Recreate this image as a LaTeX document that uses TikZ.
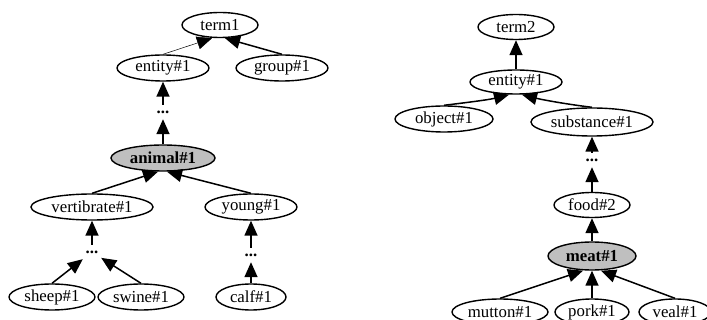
\documentclass[tikz,border=0pt]{standalone}
\usepackage{fontspec}
\setmainfont{Liberation Serif}
\usetikzlibrary{shapes.geometric,arrows.meta}

\tikzset{
  concept/.style n args={2}{ellipse, draw, line width=1.4pt, inner sep=0pt,
    minimum width=#1pt, minimum height=#2pt,
    font=\fontsize{16.8}{18}\selectfont},
  focus/.style={fill=gray!50, font=\fontsize{16.8}{18}\selectfont\bfseries},
  gap/.style={rectangle, inner sep=0pt, minimum width=18pt, minimum height=14pt,
    font=\fontsize{16.8}{18}\selectfont\bfseries},
  isa/.style={line width=1.5pt, -{Triangle[length=15pt,width=13pt]}},
  weak/.style={line width=0.5pt, -{Triangle[length=15pt,width=13pt]}}
}

\begin{document}
\begin{tikzpicture}[x=1pt, y=-1pt]
\useasboundingbox (0,0) rectangle (707,320);

% ---- hierarchy of term1 ----
\node[concept={76}{25}] (term1) at (220,25) {term1};
\node[concept={92}{26}] (entA) at (163,68) {entity\#1};
\node[concept={92}{26}] (group) at (282,68) {group\#1};
\node[gap] (dA) at (163,112) {...};
\node[concept={104}{26}, focus] (animal) at (163,158) {animal\#1};
\node[concept={122}{26}] (vert) at (92,207) {vertibrate\#1};
\node[concept={92}{26}] (young) at (251,207) {young\#1};
\node[gap] (dV) at (92,252) {...};
\node[gap] (dY) at (251,255) {...};
\node[concept={86}{26}] (sheep) at (52,297) {sheep\#1};
\node[concept={86}{26}] (swine) at (141,297) {swine\#1};
\node[concept={70}{26}] (calf) at (251,297) {calf\#1};

\draw[weak] (entA.north) -- ([xshift=-8pt]term1.south);
\draw[isa] (group.north) -- ([xshift=5pt]term1.south);
\draw[isa] (dA.north) -- (entA.south);
\draw[isa] (animal.north) -- (dA.south);
\draw[isa] (vert.north) -- ([xshift=-5pt]animal.south);
\draw[isa] (young.north) -- ([xshift=4pt]animal.south);
\draw[isa] (dV.north) -- (vert.south);
\draw[isa] (sheep.north) -- (dV);
\draw[isa] (swine.north) -- (dV);
\draw[isa] (dY.north) -- (young.south);
\draw[isa] (calf.north) -- (dY.south);

% ---- hierarchy of term2 ----
\node[concept={76}{25}] (term2) at (516,27) {term2};
\node[concept={92}{24}] (entB) at (516,82) {entity\#1};
\node[concept={98}{26}] (object) at (444,119) {object\#1};
\node[concept={122}{28}] (subst) at (592,122) {substance\#1};
\node[gap] (dS) at (592,160) {...};
\node[concept={76}{25}] (food) at (592,205) {food\#2};
\node[concept={88}{28}, focus] (meat) at (592,256) {meat\#1};
\node[concept={96}{26}] (mutton) at (500,312) {mutton\#1};
\node[concept={74}{26}] (pork) at (592,312) {pork\#1};
\node[concept={72}{26}] (veal) at (675,312) {veal\#1};

\draw[isa] (entB.north) -- (term2.south);
\draw[isa] (object.north) .. controls +(25,-3) and +(-20,5) .. ([xshift=-7pt]entB.south);
\draw[isa] (subst.north) .. controls +(-25,-3) and +(20,5) .. ([xshift=6pt]entB.south);
\draw[isa] (dS.north) -- (subst.south);
\draw[isa] (food.north) -- (dS.south);
\draw[isa] (meat.north) -- (food.south);
\draw[isa] (mutton.north) -- ([xshift=-9pt]meat.south);
\draw[isa] (pork.north) -- (meat.south);
\draw[isa] (veal.north) -- ([xshift=9pt]meat.south);
\end{tikzpicture}
\end{document}
